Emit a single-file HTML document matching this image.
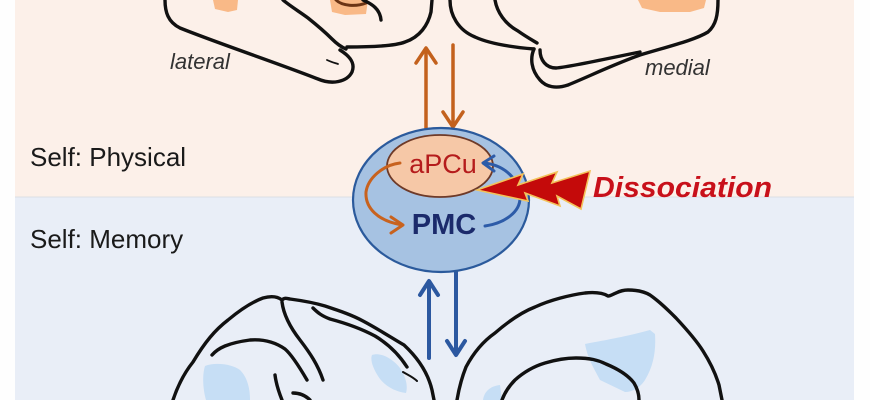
<!DOCTYPE html>
<html>
<head>
<meta charset="utf-8">
<style>
  html, body { margin:0; padding:0; background:#ffffff; }
  body { width:870px; height:400px; overflow:hidden; }
  svg { display:block; }
  text { font-family: "Liberation Sans", "DejaVu Sans", sans-serif; }
</style>
</head>
<body>
<svg width="870" height="400" viewBox="0 0 870 400" xmlns="http://www.w3.org/2000/svg">
  <!-- backgrounds -->
  <rect x="0" y="0" width="870" height="400" fill="#fefefe"/>
  <rect x="15" y="0" width="839" height="197" fill="#fcf0e9"/>
  <rect x="15" y="197" width="839" height="203" fill="#e9eef7"/>
  <line x1="15" y1="197" x2="854" y2="197" stroke="#dcdfe4" stroke-width="1"/>

  <!-- ===== Top lateral brain ===== -->
  <g fill="none" stroke="#111" stroke-width="3.4" stroke-linecap="round" stroke-linejoin="round">
    <path d="M213,0 L238,0 L237,10 L228,12 L215,9 Z" fill="#f9b987" stroke="none"/>
    <path d="M330,0 L368,0 L366,14 L345,15 L332,12 Z" fill="#f9b987" stroke="none"/>
    <path d="M336,0 C342,6 356,7 366,3" stroke="#6b3415" stroke-width="3"/>
    <path d="M165,0 C165,12 168,22 180,28 C220,44 280,64 318,79 C332,85 347,82 352,72 C356,62 348,55 340,50"/>
    <path d="M347,47 C370,47 395,46 405,42 C420,37 428,25 431,12 L432,0"/>
    <path d="M283,0 C290,6 300,12 308,18 C318,26 326,33 332,39 C337,44 341,47 346,49"/>
    <path d="M363,0 C372,4 380,9 381,20"/>
    <path d="M327,60 C331,62 335,63 338,64" stroke-width="1.8"/>
  </g>

  <!-- ===== Top medial brain ===== -->
  <g fill="none" stroke="#111" stroke-width="3.4" stroke-linecap="round" stroke-linejoin="round">
    <path d="M638,0 L706,0 L704,8 L690,12 L660,12 L642,8 Z" fill="#f9b987" stroke="none"/>
    <path d="M450,0 C450,15 458,30 475,37 C488,43 510,47 534,49"/>
    <path d="M534,49 C530,58 531,70 540,80 C546,87 556,89 568,85 C590,76 610,66 640,55 C670,46 695,40 708,32 C716,25 718,15 718,0"/>
    <path d="M540,50 C540,60 546,68 556,68 C570,67 600,60 640,52"/>
    <path d="M495,0 C497,12 505,24 518,31 C525,36 532,40 537,43"/>
  </g>

  <!-- labels top -->
  <text x="170" y="69" font-size="22" font-style="italic" fill="#333">lateral</text>
  <text x="645" y="75" font-size="22" font-style="italic" fill="#333">medial</text>
  <text x="30" y="166" font-size="26" fill="#1a1a1a">Self: Physical</text>
  <text x="30" y="248" font-size="26" fill="#1a1a1a">Self: Memory</text>

  <!-- orange arrows -->
  <g stroke="#c3611d" stroke-width="3.5" fill="none" stroke-linecap="round" stroke-linejoin="round">
    <line x1="426" y1="133" x2="426" y2="49"/>
    <polyline points="416,63 426,48 436,63"/>
    <line x1="453" y1="45" x2="453" y2="126"/>
    <polyline points="443,112 453,127 463,112"/>
  </g>

  <!-- blue arrows -->
  <g stroke="#2c58a0" stroke-width="4" fill="none" stroke-linecap="round" stroke-linejoin="round">
    <line x1="429" y1="358" x2="429" y2="282"/>
    <polyline points="420,295 429,281 438,295"/>
    <line x1="456" y1="272" x2="456" y2="354"/>
    <polyline points="447,341 456,355 465,341"/>
  </g>

  <!-- ===== PMC ellipse ===== -->
  <ellipse cx="441" cy="200" rx="88" ry="72" fill="#a6c2e2" stroke="#2b5a9c" stroke-width="2.2"/>
  <ellipse cx="440" cy="166" rx="53" ry="31" fill="#f6c8a7" stroke="#6e3a28" stroke-width="1.8"/>

  <!-- curved orange arrow -->
  <g stroke="#c8621e" stroke-width="3" fill="none" stroke-linecap="round" stroke-linejoin="round">
    <path d="M400,163 C383,165 368,178 366,192 C365,208 378,221 402,225"/>
    <polyline points="391,217 403,225 391,233"/>
  </g>
  <!-- curved blue arrow -->
  <g stroke="#2d5ba8" stroke-width="3" fill="none" stroke-linecap="round" stroke-linejoin="round">
    <path d="M485,226 C505,223 520,212 520,198 C520,180 505,165 484,163"/>
    <polyline points="494,156 483,163 494,171"/>
  </g>

  <text x="443" y="173" font-size="27" fill="#b51c1c" text-anchor="middle">aPCu</text>
  <text x="444" y="234" font-size="29" font-weight="bold" fill="#1b2a6b" text-anchor="middle">PMC</text>

  <!-- lightning bolt -->
  <polygon points="477,190 523,174 518,185 557,172 552,183 590,171 581,209 557,196 560,206 525,193 528,201"
           fill="#c40a0a" stroke="#f3c25a" stroke-width="1.6" stroke-linejoin="miter"/>

  <text x="593" y="197" font-size="29" font-weight="bold" font-style="italic" fill="#c8101a" textLength="179" lengthAdjust="spacingAndGlyphs">Dissociation</text>

  <!-- ===== Bottom left brain ===== -->
  <path d="M205,366 C215,362 232,364 240,370 C248,378 250,390 250,400 L206,400 C203,390 202,375 205,366 Z" fill="#c6def5"/>
  <path d="M372,355 C380,352 392,358 400,368 C406,377 408,386 406,393 C396,392 384,386 378,376 C373,368 370,360 372,355 Z" fill="#c6def5"/>
  <g fill="none" stroke="#111" stroke-width="3.4" stroke-linecap="round" stroke-linejoin="round">
    <path d="M173,400 C178,385 185,372 193,362 C205,342 215,330 228,320 C240,310 252,302 263,298 C270,296 277,296 282,300 C285,297 288,299 290,299 C305,301 315,303 325,306 C340,311 352,315 363,321 C380,330 395,340 404,345 C418,358 428,373 432,390 L434,400"/>
    <path d="M282,302 C283,310 286,322 300,340 C310,353 318,365 323,380"/>
    <path d="M313,308 C318,313 322,316 330,319 C345,323 360,328 375,336 C390,345 400,356 407,367"/>
    <path d="M403,372 C408,375 413,377 417,381" stroke-width="2"/>
    <path d="M212,355 C218,348 228,343 250,340 C263,339 275,342 285,349 C292,355 300,368 307,380"/>
    <path d="M275,375 C276,383 278,390 282,400"/>
    <path d="M293,393 C300,393 306,396 310,400"/>
  </g>

  <!-- ===== Bottom right brain ===== -->
  <path d="M585,344 C600,341 625,337 650,330 L655,334 C656,350 654,365 645,380 C640,388 632,392 625,392 L600,380 C595,370 588,360 585,344 Z" fill="#c6def5"/>
  <path d="M483,400 C484,392 490,386 500,385 L502,400 Z" fill="#c6def5"/>
  <g fill="none" stroke="#111" stroke-width="3.4" stroke-linecap="round" stroke-linejoin="round">
    <path d="M457,400 C459,388 462,377 466,367 C475,350 485,340 495,333 C510,320 522,312 535,307 C550,300 570,295 585,293 C595,292 603,293 608,296 C611,296 613,294 616,293 C620,291 624,290 628,290 C638,290 645,292 650,295 C660,302 668,310 676,318 C690,333 698,343 703,351 C710,362 716,375 719,385 L722,400"/>
    <path d="M502,400 C505,392 509,386 515,380 C525,371 535,366 545,363 C555,360 565,358 576,358 C590,358 598,360 606,364 C618,369 628,375 634,383 C637,388 639,394 639,400"/>
  </g>
</svg>
</body>
</html>
